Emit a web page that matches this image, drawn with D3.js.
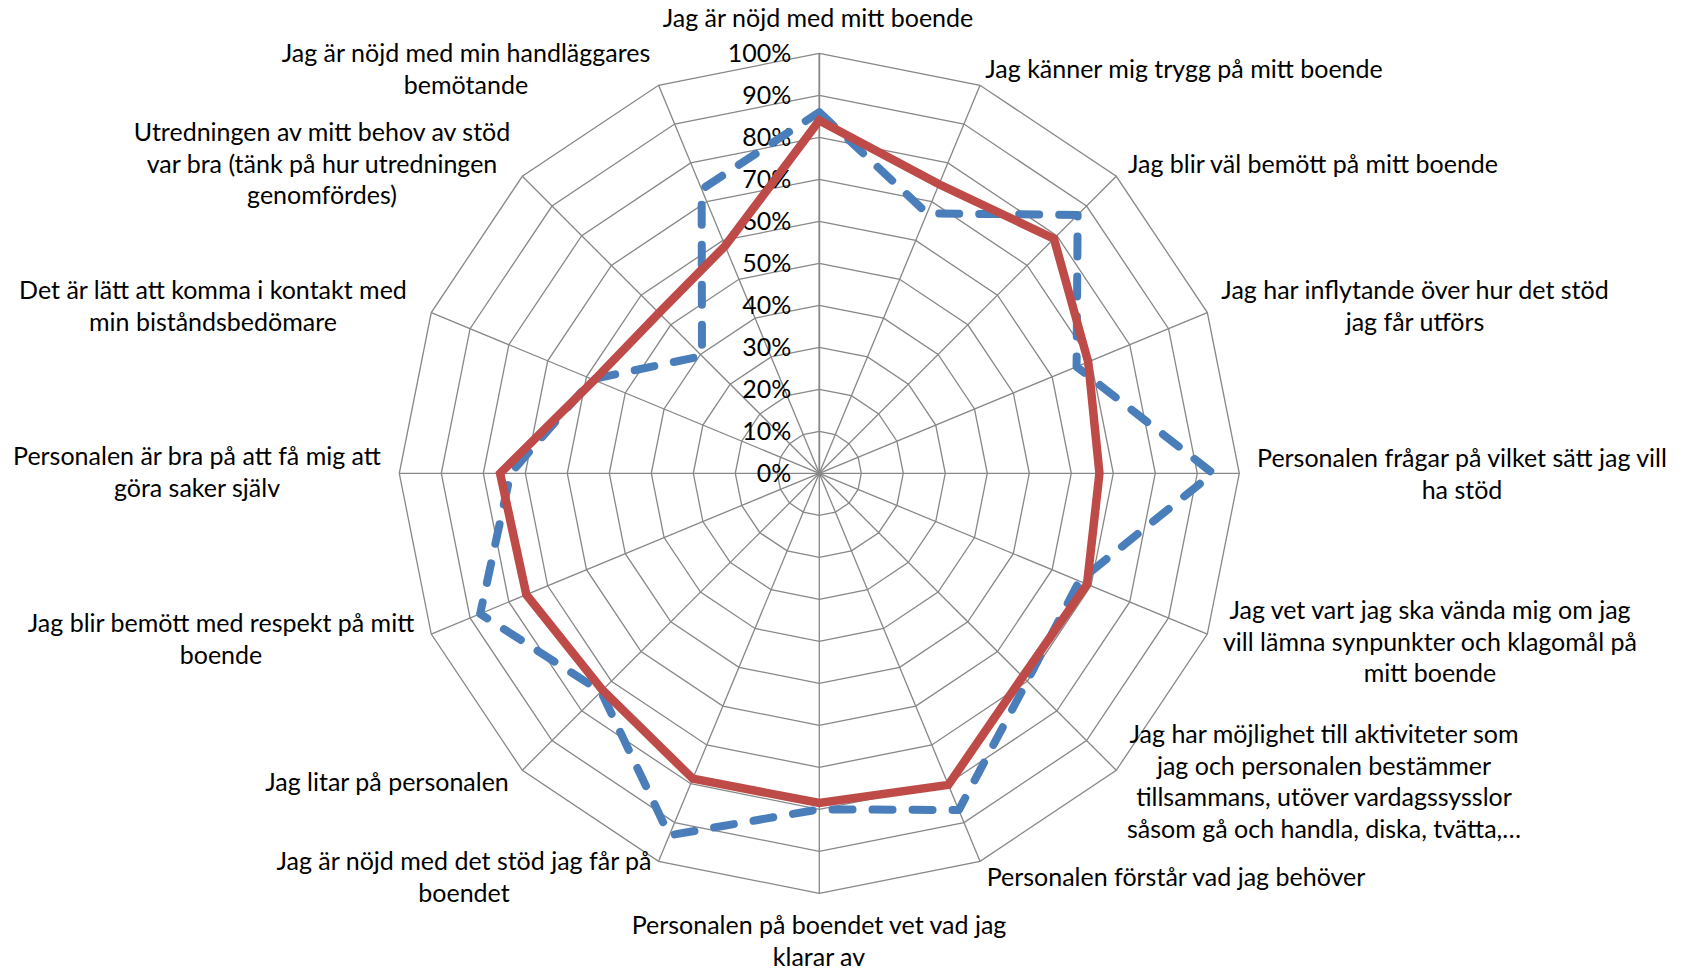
<!DOCTYPE html>
<html>
<head>
<meta charset="utf-8">
<script src="https://cdn.jsdelivr.net/npm/d3@7"></script>
<style>
  html, body { margin: 0; padding: 0; background: #ffffff; }
  svg { display: block; }
  text { font-family: Lato, "Open Sans", sans-serif; fill: #000; }
</style>
</head>
<body>
<svg id="chart" width="1682" height="971"></svg>
<script>
// Survey statements, one per spoke, clockwise from the top
const categories = [
  "Jag är nöjd med mitt boende",
  "Jag känner mig trygg på mitt boende",
  "Jag blir väl bemött på mitt boende",
  "Jag har inflytande över hur det stöd\njag får utförs",
  "Personalen frågar på vilket sätt jag vill\nha stöd",
  "Jag vet vart jag ska vända mig om jag\nvill lämna synpunkter och klagomål på\nmitt boende",
  "Jag har möjlighet till aktiviteter som\njag och personalen bestämmer\ntillsammans, utöver vardagssysslor\nsåsom gå och handla, diska, tvätta,…",
  "Personalen förstår vad jag behöver",
  "Personalen på boendet vet vad jag\nklarar av",
  "Jag är nöjd med det stöd jag får på\nboendet",
  "Jag litar på personalen",
  "Jag blir bemött med respekt på mitt\nboende",
  "Personalen är bra på att få mig att\ngöra saker själv",
  "Det är lätt att komma i kontakt med\nmin biståndsbedömare",
  "Utredningen av mitt behov av stöd\nvar bra (tänk på hur utredningen\ngenomfördes)",
  "Jag är nöjd med min handläggares\nbemötande"
];

// Share of positive answers per statement
const valuesBlue = [0.86, 0.67, 0.87, 0.663, 0.937, 0.67, 0.70, 0.868, 0.80, 0.933, 0.735, 0.874, 0.735, 0.585, 0.395, 0.732];
const valuesRed  = [0.84, 0.745, 0.79, 0.693, 0.667, 0.69, 0.685, 0.803, 0.785, 0.787, 0.73, 0.755, 0.76, 0.58, 0.54, 0.586];

// Radial value axis
const tickValues = [0, 0.1, 0.2, 0.3, 0.4, 0.5, 0.6, 0.7, 0.8, 0.9, 1.0];
const tickLabels = ["0%", "10%", "20%", "30%", "40%", "50%", "60%", "70%", "80%", "90%", "100%"];

// Layout: centre of each category label block and the y of its first line
const labelAnchors = [
  [818, 18], [1184, 69], [1313, 164], [1415, 290], [1462, 458], [1430, 610],
  [1324, 734], [1176, 877], [819, 925], [464, 861], [387, 782], [221, 623],
  [197, 456], [213, 290], [322, 132], [466, 53]
];

const cx = 819.3, cy = 473.3, R = 420;
const fontSize = 25, lineGap = 31.6;

const svg = d3.select("#chart");
const g = svg.append("g").attr("transform", `translate(${cx},${cy})`);

const r = d3.scaleLinear().domain([0, 1]).range([0, R]);
const angle = d3.scaleLinear().domain([0, categories.length]).range([0, 2 * Math.PI]);
const idx = d3.range(categories.length);

const gridColor = "#878787";

// Concentric rings
const ring = d3.lineRadial()
  .angle(i => angle(i))
  .curve(d3.curveLinearClosed);

g.append("g").selectAll("path")
  .data(tickValues.filter(v => v > 0))
  .join("path")
  .attr("d", v => ring.radius(() => r(v))(idx))
  .attr("fill", "none")
  .attr("stroke", gridColor)
  .attr("stroke-width", 1.3);

// Spokes
g.append("g").selectAll("line")
  .data(idx)
  .join("line")
  .attr("x1", 0).attr("y1", 0)
  .attr("x2", i => r(1) * Math.sin(angle(i)))
  .attr("y2", i => -r(1) * Math.cos(angle(i)))
  .attr("stroke", gridColor)
  .attr("stroke-width", i => i === 0 ? 1.8 : 1.3);

// Value axis labels along the top spoke
g.append("g").selectAll("text")
  .data(tickValues)
  .join("text")
  .attr("x", -28)
  .attr("y", v => -r(v))
  .attr("dy", "0.36em")
  .attr("text-anchor", "end")
  .attr("font-size", fontSize)
  .text((v, i) => tickLabels[i]);

// Data series
const seriesLine = d3.lineRadial()
  .angle((d, i) => angle(i))
  .radius(d => r(d))
  .curve(d3.curveLinearClosed);

g.append("path")
  .attr("d", seriesLine(valuesBlue))
  .attr("fill", "none")
  .attr("stroke", "#4A7EBB")
  .attr("stroke-width", 8)
  .attr("stroke-dasharray", "20 20")
  .attr("stroke-linecap", "round")
  .attr("stroke-linejoin", "round");

g.append("path")
  .attr("d", seriesLine(valuesRed))
  .attr("fill", "none")
  .attr("stroke", "#BE4B48")
  .attr("stroke-width", 8.5)
  .attr("stroke-linejoin", "miter");

// Category labels
const labels = svg.append("g");
categories.forEach((c, i) => {
  const [lx, ly] = labelAnchors[i];
  const t = labels.append("text")
    .attr("text-anchor", "middle")
    .attr("font-size", fontSize);
  c.split("\n").forEach((line, k) => {
    t.append("tspan")
      .attr("x", lx)
      .attr("y", ly + k * lineGap)
      .attr("dy", "0.36em")
      .text(line);
  });
});
</script>
</body>
</html>
